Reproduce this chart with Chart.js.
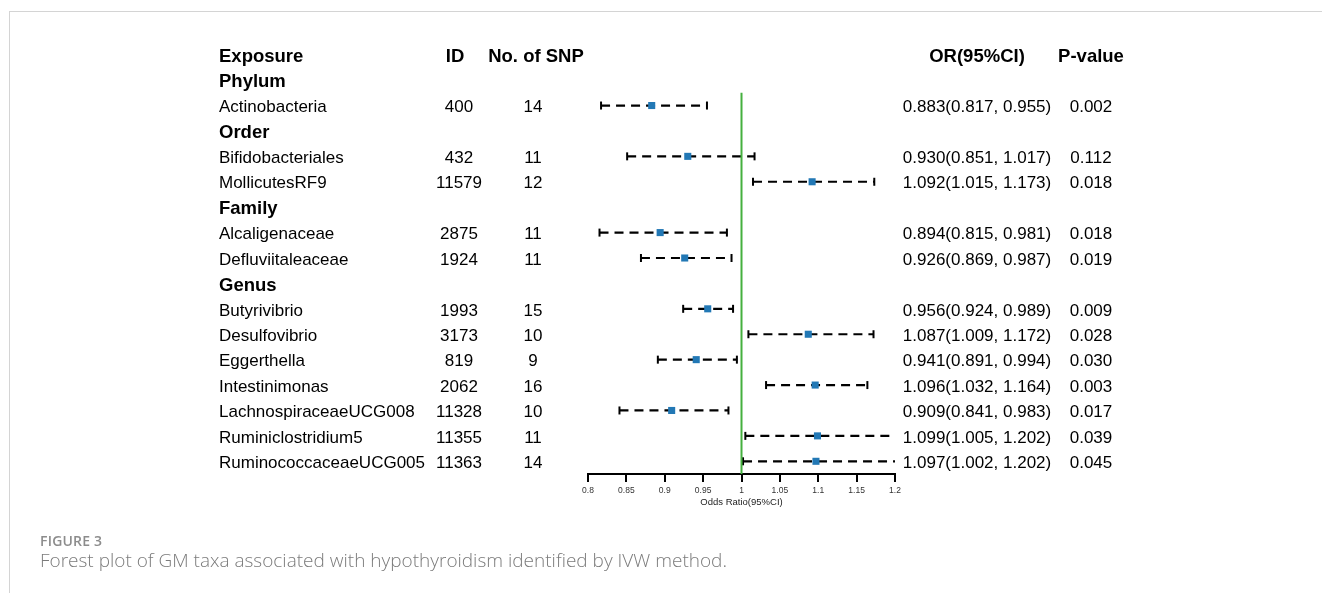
<!DOCTYPE html>
<html>
<head>
<meta charset="utf-8">
<script src="https://cdn.jsdelivr.net/npm/chart.js@4"></script>
<style>
  body { margin: 0; background: #fff; }
  #wrap { position: relative; width: 1322px; height: 593px; overflow: hidden; }
  #frame { position: absolute; left: 9px; top: 11px; width: 1320px; height: 590px;
           border-top: 1px solid #d4d4d4; border-left: 1px solid #d4d4d4; }
  .cap1 { position: absolute; left: 40px; top: 531px; font: 600 14px "Open Sans", sans-serif;
          color: #8c8c8c; letter-spacing: 0.2px; }
  .cap2 { position: absolute; left: 40px; top: 547px; font: 300 19px "Open Sans", sans-serif;
          color: #7b7b7b; }
</style>
</head>
<body>
<div id="wrap">
  <div id="frame"></div>
  <canvas id="forest" width="1322" height="593"></canvas>
  <div class="cap1">FIGURE 3</div>
  <div class="cap2">Forest plot of GM taxa associated with hypothyroidism identified by IVW method.</div>
</div>
<script>
// donnees (ligne 0 = en-tete)
const headers = ["Exposure", "ID", "No. of SNP", "OR(95%CI)", "P-value"];
const exposures = ["Phylum", "Actinobacteria", "Order", "Bifidobacteriales", "MollicutesRF9",
  "Family", "Alcaligenaceae", "Defluviitaleaceae", "Genus", "Butyrivibrio", "Desulfovibrio",
  "Eggerthella", "Intestinimonas", "LachnospiraceaeUCG008", "Ruminiclostridium5", "RuminococcaceaeUCG005"];
const ids = ["", "400", "", "432", "11579", "", "2875", "1924", "", "1993", "3173", "819", "2062", "11328", "11355", "11363"];
const nSnp = ["", "14", "", "11", "12", "", "11", "11", "", "15", "10", "9", "16", "10", "11", "14"];
const orVals = [null, 0.883, null, 0.930, 1.092, null, 0.894, 0.926, null, 0.956, 1.087, 0.941, 1.096, 0.909, 1.099, 1.097];
const lowerCI = [null, 0.817, null, 0.851, 1.015, null, 0.815, 0.869, null, 0.924, 1.009, 0.891, 1.032, 0.841, 1.005, 1.002];
const upperCI = [null, 0.955, null, 1.017, 1.173, null, 0.981, 0.987, null, 0.989, 1.172, 0.994, 1.164, 0.983, 1.202, 1.202];
const pValues = ["", "0.002", "", "0.112", "0.018", "", "0.018", "0.019", "", "0.009", "0.028", "0.030", "0.003", "0.017", "0.039", "0.045"];
const xTicks = [0.8, 0.85, 0.9, 0.95, 1, 1.05, 1.1, 1.15, 1.2];

const FONT = "'Liberation Sans', Arial, sans-serif";

// un dataset par intervalle de confiance
const datasets = [];
for (let i = 0; i < exposures.length; i++) {
  if (orVals[i] === null) continue;
  const row = i + 1;
  datasets.push({
    type: "line",
    data: [{ x: lowerCI[i], y: row }, { x: upperCI[i], y: row }],
    borderColor: "#000",
    borderWidth: 2.2,
    borderDash: [9, 6],
    pointStyle: "line",
    pointRotation: 90,
    pointRadius: 4,
    pointBorderWidth: 2,
    pointBorderColor: "#000",
    order: 3
  });
}

// ligne verticale OR = 1
datasets.push({
  type: "line",
  data: [{ x: 1, y: 1.5 }, { x: 1, y: 16.5 }],
  borderColor: "#45b03f",
  borderWidth: 2,
  pointRadius: 0,
  order: 2
});

// points OR
const points = [];
for (let i = 0; i < exposures.length; i++) {
  if (orVals[i] !== null) points.push({ x: orVals[i], y: i + 1 });
}
datasets.push({
  type: "scatter",
  data: points,
  pointStyle: "rect",
  pointRadius: 5,
  pointBorderWidth: 0,
  backgroundColor: "#2278b5",
  borderColor: "#2278b5",
  order: 1
});

// texte du tableau
const tablePlugin = {
  id: "table",
  afterDraw(chart) {
    const ctx = chart.ctx;
    const yScale = chart.scales.y;
    const dy = 2; // petit decalage vertical du texte
    ctx.save();
    ctx.fillStyle = "#000";
    ctx.textBaseline = "middle";

    let y = yScale.getPixelForValue(0) + dy;
    ctx.font = "bold 18.5px " + FONT;
    ctx.textAlign = "left";
    ctx.fillText(headers[0], 219, y);
    ctx.textAlign = "center";
    ctx.fillText(headers[1], 455, y);
    ctx.fillText(headers[2], 536, y);
    ctx.fillText(headers[3], 977, y);
    ctx.fillText(headers[4], 1091, y);

    for (let i = 0; i < exposures.length; i++) {
      y = yScale.getPixelForValue(i + 1) + dy;
      if (orVals[i] === null) {
        ctx.font = "bold 18.5px " + FONT;
        ctx.textAlign = "left";
        ctx.fillText(exposures[i], 219, y);
        continue;
      }
      ctx.font = "17px " + FONT;
      ctx.textAlign = "left";
      ctx.fillText(exposures[i], 219, y);
      ctx.textAlign = "center";
      ctx.fillText(ids[i], 459, y);
      ctx.fillText(nSnp[i], 533, y);
      const txt = orVals[i].toFixed(3) + "(" + lowerCI[i].toFixed(3) + ", " + upperCI[i].toFixed(3) + ")";
      ctx.fillText(txt, 977, y);
      ctx.fillText(pValues[i], 1091, y);
    }
    ctx.restore();
  }
};

new Chart(document.querySelector("#forest"), {
  data: { datasets: datasets },
  options: {
    responsive: false,
    animation: false,
    layout: { padding: { left: 588, right: 427, top: 42, bottom: 85 } },
    plugins: { legend: { display: false }, tooltip: { enabled: false } },
    scales: {
      x: {
        type: "linear",
        position: "bottom",
        min: 0.8,
        max: 1.2,
        afterBuildTicks: (scale) => { scale.ticks = xTicks.map(v => ({ value: v })); },
        afterFit: (scale) => { scale.height = 34; },
        grid: { drawOnChartArea: false, drawTicks: true, tickLength: 8, color: "#000", lineWidth: 2 },
        border: { display: true, color: "#000", width: 2 },
        ticks: {
          color: "#333",
          padding: 4,
          maxRotation: 0,
          font: { family: FONT, size: 8.5 },
          callback: (v) => String(v)
        },
        title: {
          display: true,
          text: "Odds Ratio(95%CI)",
          color: "#222",
          padding: { top: 1, bottom: 0 },
          font: { family: FONT, size: 9.5 }
        }
      },
      y: {
        type: "linear",
        display: false,
        reverse: true,
        min: -0.5,
        max: 16.5
      }
    }
  },
  plugins: [tablePlugin]
});
</script>
</body>
</html>
